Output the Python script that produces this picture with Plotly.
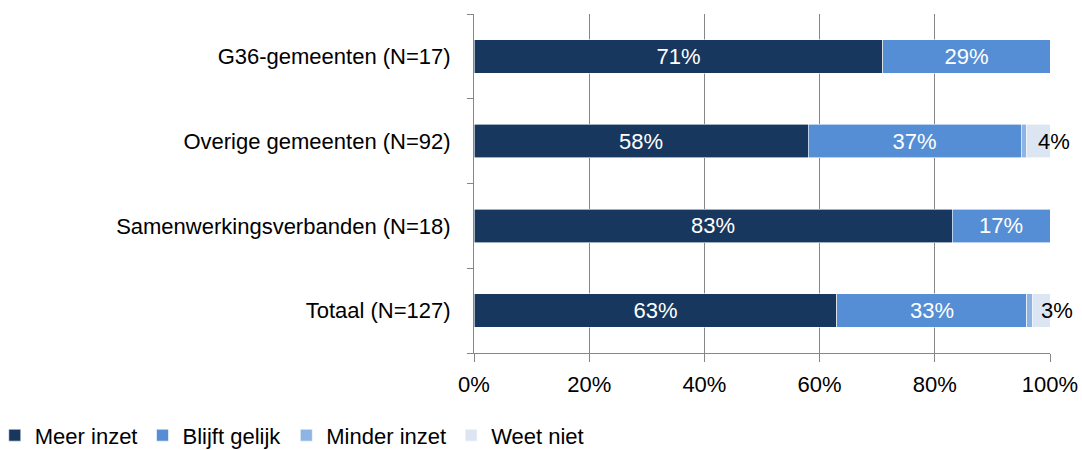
import plotly.graph_objects as go

categories = ["G36-gemeenten (N=17)", "Overige gemeenten (N=92)",
              "Samenwerkingsverbanden (N=18)", "Totaal (N=127)"]
series_names = ["Meer inzet", "Blijft gelijk", "Minder inzet", "Weet niet"]
meer_inzet = [71, 58, 83, 63]
blijft_gelijk = [29, 37, 17, 33]
minder_inzet = [0, 1, 0, 1]
weet_niet = [0, 4, 0, 3]
x_ticks = [0, 20, 40, 60, 80, 100]
x_ticklabels = ["0%", "20%", "40%", "60%", "80%", "100%"]

colors = ["#17375E", "#558ED5", "#8EB4E3", "#DCE6F2"]
FONT = "Liberation Sans, Arial, sans-serif"
FS = 22

values = [meer_inzet, blijft_gelijk, minder_inzet, weet_niet]
fig = go.Figure()
for i, (name, vals) in enumerate(zip(series_names, values)):
    show_text = i < 2
    fig.add_trace(go.Bar(
        y=categories, x=vals, name=name, orientation="h",
        marker=dict(color=colors[i], line=dict(color="white", width=0.6)),
        width=0.394,
        text=[f"{v}%" if (show_text and v > 0) else "" for v in vals],
        textposition="inside" if show_text else "none",
        insidetextanchor="middle",
        textfont=dict(color="white", size=FS, family=FONT),
        hoverinfo="skip",
    ))

# outside labels for "Weet niet"
for c, m, b, mi, w in zip(categories, meer_inzet, blijft_gelijk, minder_inzet, weet_niet):
    if w > 0:
        fig.add_annotation(x=m + b + mi + w / 2, y=c, text=f"{w}%", showarrow=False,
                           xanchor="center", yanchor="middle", xshift=16,
                           font=dict(color="black", size=FS, family=FONT))

fig.update_layout(
    barmode="stack",
    width=1082, height=450,
    margin=dict(l=474, r=32, t=14, b=97, autoexpand=False),
    paper_bgcolor="white", plot_bgcolor="white",
    font=dict(family=FONT, size=FS, color="black"),
    showlegend=True,
    legend=dict(orientation="h", x=-0.832, xanchor="left", y=-0.181, yanchor="top",
                font=dict(size=FS, family=FONT), itemwidth=30, tracegroupgap=0,
                traceorder="normal"),
)
fig.update_xaxes(range=[0, 100], tickvals=x_ticks, ticktext=x_ticklabels,
                 showgrid=True, gridcolor="#868686", gridwidth=1,
                 showline=True, linecolor="#868686", linewidth=1,
                 ticks="outside", ticklen=8, tickcolor="#868686",
                 ticklabelstandoff=4, zeroline=False, automargin=False,
                 tickfont=dict(size=FS, family=FONT, color="black"))
fig.update_yaxes(type="category", categoryorder="array",
                 categoryarray=list(reversed(categories)),
                 tickson="boundaries", ticks="outside", ticklen=6, tickcolor="#868686",
                 showline=True, linecolor="#868686", linewidth=1,
                 showgrid=False, ticklabelstandoff=18, automargin=False,
                 tickfont=dict(size=FS, family=FONT, color="black"))

fig.write_html("out.html", config={"displayModeBar": False},
               post_script="document.body.style.margin='0px';")
